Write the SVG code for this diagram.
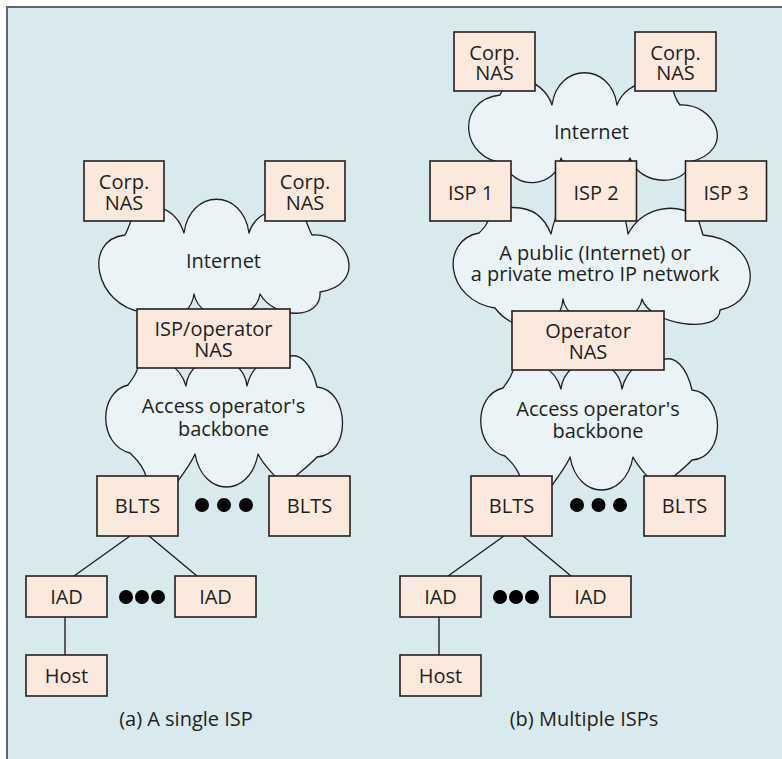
<svg xmlns="http://www.w3.org/2000/svg" xmlns:xlink="http://www.w3.org/1999/xlink" width="782" height="759" viewBox="0 0 782 759">
  <style>
    .bg { fill: #d9eaee; }
    .frame { fill: none; stroke: #5f6769; stroke-width: 2; }
    .cloud { fill: #eaf3f5; stroke: #231f20; stroke-width: 1.3; stroke-linejoin: round; }
    .box { fill: #fbe9de; stroke: #231f20; stroke-width: 1.6; }
    .link { stroke: #231f20; stroke-width: 1.4; fill: none; }
    .dot { fill: #000000; }
    text { font-family: "Open Sans", "Noto Sans", "DejaVu Sans", sans-serif; font-size: 20px; fill: #231f20; text-anchor: middle; }
  </style>
  <defs>
    <!-- access operator's backbone cloud, shared by both panels -->
    <path id="backbone-shape" d="M 140 360 C 160 355, 180 365, 186 386 C 190 350, 243 350, 247 386 C 252 365, 265 358, 285 358 C 300 350, 312 365, 317 387 C 350 390, 352 455, 317 457 C 310 465, 300 472, 285 485 C 275 478, 262 462, 258 454 C 250 498, 203 498, 195 454 C 192 462, 186 470, 175 485 L 150 490 C 145 465, 135 458, 130 453 C 98 445, 98 392, 128 385 C 133 378, 138 372, 140 360 Z"/>
  </defs>

  <!-- page background and frame -->
  <rect x="0" y="0" width="782" height="759" fill="#ffffff"/>
  <rect class="bg" x="6" y="6" width="776" height="753"/>
  <path class="frame" d="M 7 759 L 7 7 L 782 7"/>

  <!-- clouds -->
  <g id="internet-a">
    <path class="cloud" d="M 135 212 C 152 200, 176 208, 184 233 C 190 188, 243 188, 249 233 C 255 212, 280 205, 300 210 C 305 215, 308 228, 312 235 C 350 232, 368 285, 320 292 C 322 320, 275 320, 260 294 C 255 325, 200 325, 194 294 C 190 325, 150 322, 142 312 C 95 305, 82 240, 125 235 C 128 230, 130 222, 135 212 Z"/>
    <text x="223.5" y="268">Internet</text>
  </g>
  <g id="backbone-a">
    <use xlink:href="#backbone-shape" href="#backbone-shape" class="cloud"/>
    <text x="223.5" y="413">Access operator's<tspan x="223.5" dy="23">backbone</tspan></text>
  </g>
  <g id="internet-b">
    <path class="cloud" d="M 520 80 C 535 80, 548 92, 552 105 C 558 62, 611 62, 617 105 C 622 92, 632 85, 650 80 L 672 86 C 674 95, 676 100, 680 105 C 715 103, 738 150, 690 162 C 688 186, 640 188, 630 158 C 625 175, 566 175, 561 158 C 556 190, 512 190, 505 163 C 460 160, 455 100, 500 95 L 505 85 Z"/>
    <text x="591.5" y="139">Internet</text>
  </g>
  <g id="metro-b">
    <path class="cloud" d="M 495 210 C 515 205, 540 205, 551 234 C 555 215, 560 205, 575 200 L 615 200 C 622 205, 626 220, 628 234 C 642 208, 672 202, 695 215 L 698 218 C 700 225, 702 232, 703 235 C 760 240, 765 300, 720 310 C 720 335, 650 325, 642 299 C 638 330, 567 330, 563 299 C 560 335, 515 335, 495 308 C 445 300, 440 240, 479 233 C 484 228, 488 224, 490 215 Z"/>
    <text x="595" y="260">A public (Internet) or<tspan x="595" dy="21">a private metro IP network</tspan></text>
  </g>
  <g id="backbone-b">
    <use xlink:href="#backbone-shape" href="#backbone-shape" class="cloud" transform="translate(375,3)"/>
    <text x="598" y="416">Access operator's<tspan x="598" dy="22">backbone</tspan></text>
  </g>

  <!-- connectors -->
  <g id="connectors">
    <line class="link" x1="130" y1="536" x2="74" y2="576"/>
    <line class="link" x1="149" y1="536" x2="197" y2="576"/>
    <line class="link" x1="65" y1="617" x2="65" y2="655"/>
    <line class="link" x1="504" y1="536" x2="448" y2="576"/>
    <line class="link" x1="523" y1="536" x2="571" y2="576"/>
    <line class="link" x1="439" y1="617" x2="439" y2="655"/>
  </g>

  <!-- (a) single ISP -->
  <g id="corp-nas-a1">
    <rect class="box" x="84" y="161" width="80" height="60"/>
    <text x="124" y="189">Corp.<tspan x="124" dy="21">NAS</tspan></text>
  </g>
  <g id="corp-nas-a2">
    <rect class="box" x="265" y="161" width="80" height="60"/>
    <text x="305" y="189">Corp.<tspan x="305" dy="21">NAS</tspan></text>
  </g>
  <g id="isp-operator-nas">
    <rect class="box" x="137" y="309" width="153" height="59"/>
    <text x="213.5" y="336">ISP/operator<tspan x="213.5" dy="21">NAS</tspan></text>
  </g>
  <g id="blts-a1">
    <rect class="box" x="97" y="476" width="81" height="60"/>
    <text x="137.5" y="513">BLTS</text>
  </g>
  <g id="blts-a2">
    <rect class="box" x="269" y="476" width="81" height="60"/>
    <text x="309.5" y="513">BLTS</text>
  </g>
  <g id="iad-a1">
    <rect class="box" x="26" y="576" width="81" height="41"/>
    <text x="66.5" y="604">IAD</text>
  </g>
  <g id="iad-a2">
    <rect class="box" x="175" y="576" width="81" height="41"/>
    <text x="215.5" y="604">IAD</text>
  </g>
  <g id="host-a">
    <rect class="box" x="26" y="655" width="81" height="41"/>
    <text x="66.5" y="683">Host</text>
  </g>
  <g id="ellipsis-a">
    <circle class="dot" cx="202" cy="505" r="7"/>
    <circle class="dot" cx="224" cy="505" r="7"/>
    <circle class="dot" cx="246" cy="505" r="7"/>
    <circle class="dot" cx="126" cy="597" r="7"/>
    <circle class="dot" cx="142" cy="597" r="7"/>
    <circle class="dot" cx="158" cy="597" r="7"/>
  </g>
  <text id="caption-a" x="186" y="726">(a) A single ISP</text>

  <!-- (b) multiple ISPs -->
  <g id="corp-nas-b1">
    <rect class="box" x="454" y="32" width="81" height="59"/>
    <text x="494.5" y="60">Corp.<tspan x="494.5" dy="20">NAS</tspan></text>
  </g>
  <g id="corp-nas-b2">
    <rect class="box" x="635" y="32" width="81" height="59"/>
    <text x="675.5" y="60">Corp.<tspan x="675.5" dy="20">NAS</tspan></text>
  </g>
  <g id="isp-1">
    <rect class="box" x="430" y="161" width="81" height="60"/>
    <text x="470.5" y="200">ISP 1</text>
  </g>
  <g id="isp-2">
    <rect class="box" x="555.5" y="161" width="81" height="60"/>
    <text x="596" y="200">ISP 2</text>
  </g>
  <g id="isp-3">
    <rect class="box" x="685.5" y="161" width="81" height="60"/>
    <text x="726" y="200">ISP 3</text>
  </g>
  <g id="operator-nas">
    <rect class="box" x="512" y="311" width="152" height="59"/>
    <text x="588" y="338">Operator<tspan x="588" dy="21">NAS</tspan></text>
  </g>
  <g id="blts-b1">
    <rect class="box" x="471" y="476" width="81" height="60"/>
    <text x="511.5" y="513">BLTS</text>
  </g>
  <g id="blts-b2">
    <rect class="box" x="644" y="476" width="81" height="60"/>
    <text x="684.5" y="513">BLTS</text>
  </g>
  <g id="iad-b1">
    <rect class="box" x="400" y="576" width="81" height="41"/>
    <text x="440.5" y="604">IAD</text>
  </g>
  <g id="iad-b2">
    <rect class="box" x="550" y="576" width="81" height="41"/>
    <text x="590.5" y="604">IAD</text>
  </g>
  <g id="host-b">
    <rect class="box" x="400" y="655" width="81" height="41"/>
    <text x="440.5" y="683">Host</text>
  </g>
  <g id="ellipsis-b">
    <circle class="dot" cx="577" cy="505" r="7"/>
    <circle class="dot" cx="598.5" cy="505" r="7"/>
    <circle class="dot" cx="620" cy="505" r="7"/>
    <circle class="dot" cx="500" cy="597" r="7"/>
    <circle class="dot" cx="516" cy="597" r="7"/>
    <circle class="dot" cx="532" cy="597" r="7"/>
  </g>
  <text id="caption-b" x="584" y="726">(b) Multiple ISPs</text>
</svg>
